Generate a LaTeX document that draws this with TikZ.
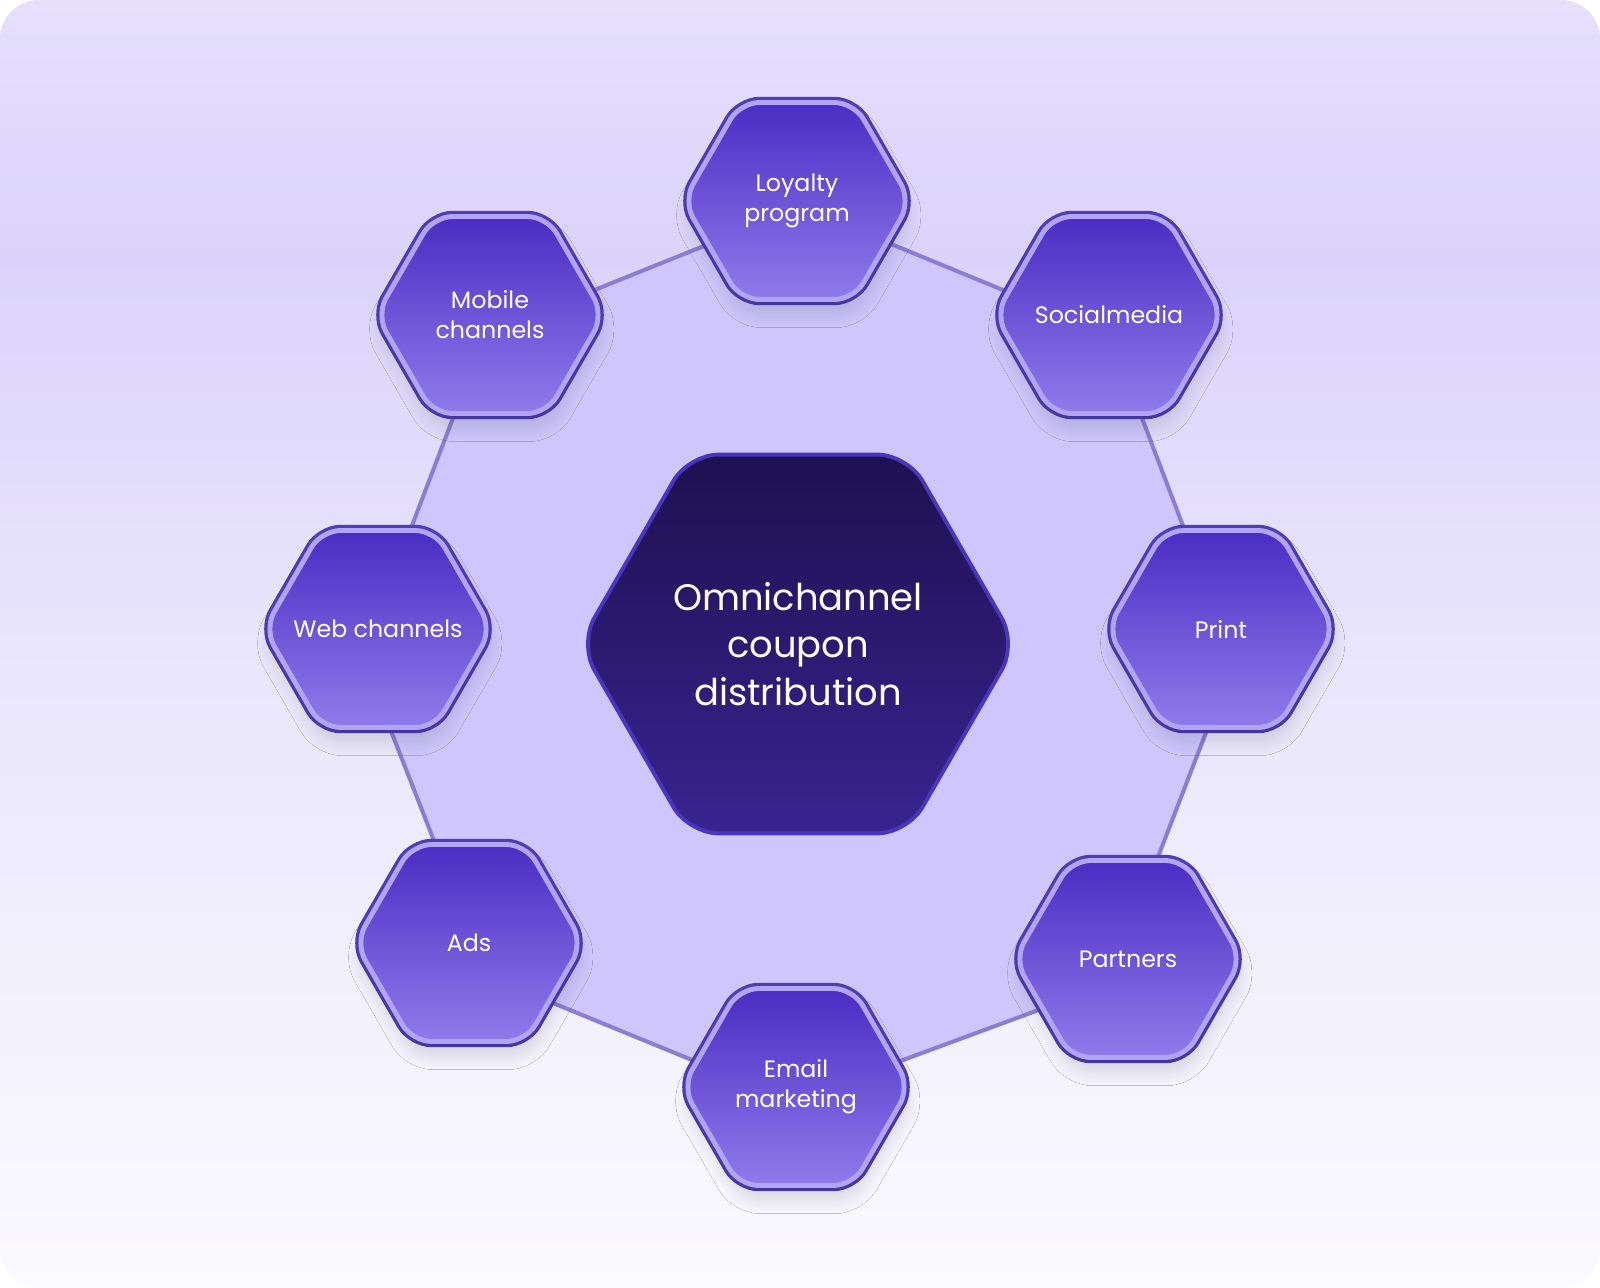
\documentclass[tikz,border=0pt]{standalone}
\usepackage{fontspec}
\setmainfont{Poppins}
\usetikzlibrary{shapes.geometric,shadows.blur,backgrounds}
\definecolor{bgtop}{HTML}{E6E0FD}
\definecolor{bgband}{HTML}{DBD3FB}
\definecolor{bgmid}{HTML}{E9E5FC}
\definecolor{bgbot}{HTML}{FBFAFE}
\definecolor{ringfill}{HTML}{CEC6FC}
\definecolor{ringline}{HTML}{8C7DD3}
\definecolor{chtop}{HTML}{4A2DC3}
\definecolor{chbot}{HTML}{8F7BEB}
\definecolor{chrim}{HTML}{B2A4F6}
\definecolor{chedge}{HTML}{4E3DB4}
\definecolor{hubtop}{HTML}{1D1150}
\definecolor{hubbot}{HTML}{382490}
\definecolor{hubrim}{HTML}{4A35BD}
\pgfdeclareverticalshading{bgshade}{100bp}{color(0bp)=(bgbot); color(25bp)=(bgbot); color(50bp)=(bgmid); color(65bp)=(bgband); color(75bp)=(bgtop); color(100bp)=(bgtop)}

\begin{document}
\begin{tikzpicture}[x=0.02cm, y=-0.02cm,
  hexa/.style={regular polygon, regular polygon sides=6, inner sep=-30pt, align=center, text=white},
  chan/.style={hexa, minimum size=4.55cm, rounded corners=11pt, font=\fontsize{13.5}{17}\selectfont,
    top color=chtop, bottom color=chbot, draw=chrim, line width=2.8pt,
    preaction={draw=chedge, line width=6.5pt},
    blur shadow={shadow xshift=1pt, shadow yshift=-8pt, shadow blur radius=8pt, shadow blur steps=12, shadow opacity=13}},
  hub/.style={hexa, minimum size=8.75cm, rounded corners=17pt, font=\fontsize{21}{27}\selectfont,
    top color=hubtop, bottom color=hubbot, draw=hubrim, line width=2.2pt},
  link/.style={draw=ringline, line width=2.3pt}]
\useasboundingbox (0,0) rectangle (1600,1288);

% corners of the ring
\coordinate (r-loyalty) at (801,207);
\coordinate (r-social) at (1110,334);
\coordinate (r-print) at (1234,660);
\coordinate (r-partners) at (1109,984);
\coordinate (r-email) at (792,1101);
\coordinate (r-ads) at (487,976);
\coordinate (r-web) at (362,657);
\coordinate (r-mobile) at (485,334);

% channels round the hub
\node[chan] (loyalty) at (797,201) {Loyalty\\program};
\node[chan] (social) at (1109,315) {Socialmedia};
\node[chan] (print) at (1221,629) {Print};
\node[chan] (partners) at (1128,959) {Partners};
\node[chan] (email) at (796,1087) {Email\\marketing};
\node[chan] (ads) at (469,943) {Ads};
\node[chan] (web) at (378,629) {Web channels};
\node[chan] (mobile) at (490,315) {Mobile\\channels};

\node[hub] (hub) at (798,644) {Omnichannel\\coupon\\distribution};

% backdrop and ring behind the hexagons
\begin{scope}[on background layer]
\path[shading=bgshade, rounded corners=22pt] (0,0) rectangle (1600,1288);
\path[fill=ringfill] (r-loyalty) -- (r-social) -- (r-print) -- (r-partners)
  -- (r-email) -- (r-ads) -- (r-web) -- (r-mobile) -- cycle;
\foreach \a/\b in {loyalty/social,social/print,print/partners,partners/email,email/ads,ads/web,web/mobile,mobile/loyalty}
  \draw[link] (r-\a) -- (r-\b);
\end{scope}
\end{tikzpicture}
\end{document}
